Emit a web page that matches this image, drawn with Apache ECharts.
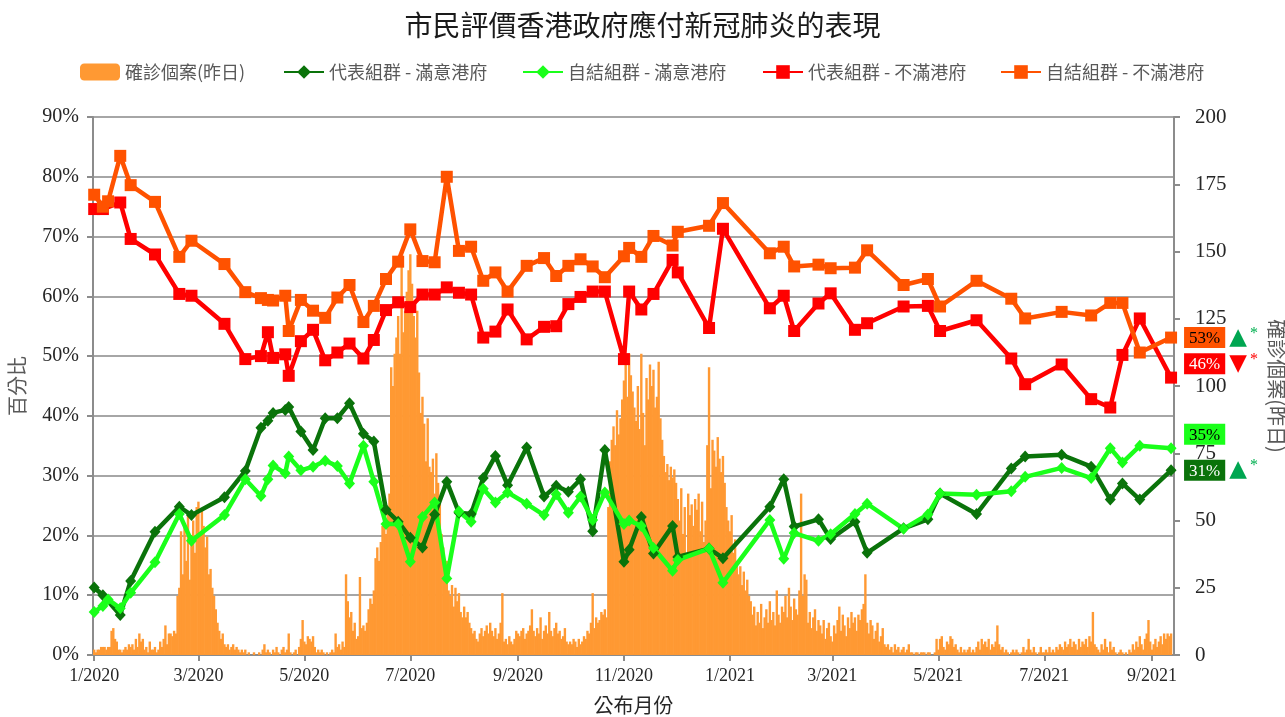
<!DOCTYPE html>
<html>
<head>
<meta charset="utf-8">
<title>市民評價香港政府應付新冠肺炎的表現</title>
<script src="https://cdn.jsdelivr.net/npm/echarts@6/dist/echarts.min.js"></script>
<style>
  html, body { margin: 0; padding: 0; background: #fff; }
  #chart { width: 1285px; height: 717px; }
</style>
</head>
<body>
<div id="chart"></div>
<script>
// 自結組群 survey dates
const selfDates = [
  '2020-01-01', '2020-01-06', '2020-01-09', '2020-01-16', '2020-01-22', '2020-02-05', '2020-02-19', '2020-02-26',
  '2020-03-16', '2020-03-28', '2020-04-06', '2020-04-10', '2020-04-13', '2020-04-20', '2020-04-22', '2020-04-29',
  '2020-05-06', '2020-05-13', '2020-05-20', '2020-05-27', '2020-06-04', '2020-06-10', '2020-06-17', '2020-06-24',
  '2020-07-01', '2020-07-08', '2020-07-15', '2020-07-22', '2020-07-29', '2020-08-05', '2020-08-12', '2020-08-19',
  '2020-08-26', '2020-09-06', '2020-09-16', '2020-09-23', '2020-09-30', '2020-10-07', '2020-10-14', '2020-10-21',
  '2020-11-01', '2020-11-04', '2020-11-11', '2020-11-18', '2020-11-29', '2020-12-02', '2020-12-20', '2020-12-28',
  '2021-01-24', '2021-02-01', '2021-02-07', '2021-02-21', '2021-02-28', '2021-03-14', '2021-03-21', '2021-04-11',
  '2021-04-25', '2021-05-02', '2021-05-23', '2021-06-12', '2021-06-20', '2021-07-11', '2021-07-28', '2021-08-08',
  '2021-08-15', '2021-08-25', '2021-09-12'
]
// 代表組群 survey dates (no 9 Jan poll)
const repDates = selfDates.filter(d => d !== '2020-01-09')

// 代表組群 - 滿意港府 (%)
const repSatisfied = [
  11.3, 10.0, 6.7, 12.4, 20.6, 24.8, 23.4, 26.4, 30.8, 38.0, 39.2, 40.5, 41.0, 41.5, 37.4,
  34.3, 39.6, 39.6, 42.1, 37.0, 35.7, 24.3, 22.3, 19.6, 18.0, 23.5, 29.0, 23.8, 23.6, 29.6,
  33.3, 28.4, 34.7, 26.5, 28.3, 27.3, 29.4, 20.7, 34.3, 15.6, 17.6, 23.1, 17.0, 21.6, 16.4,
  17.8, 16.2, 24.8, 29.4, 21.5, 22.7, 19.4, 22.3, 17.1, 21.2, 22.7, 27.0, 23.6, 31.2, 33.2,
  33.5, 31.5, 26.0, 28.7, 26.0, 30.9
]
// 自結組群 - 滿意港府 (%)
const selfSatisfied = [
  7.2, 8.2, 9.3, 7.8, 10.4, 15.5, 23.6, 19.1, 23.4, 29.4, 26.6, 29.4, 31.7, 30.4, 33.2,
  30.9, 31.5, 32.5, 31.6, 28.7, 35.0, 29.0, 21.9, 21.9, 15.6, 23.1, 25.5, 12.8, 24.0, 22.3,
  27.8, 25.5, 27.2, 25.3, 23.4, 26.9, 23.8, 26.5, 22.6, 27.2, 21.9, 22.5, 21.6, 17.9, 14.1,
  15.9, 17.8, 12.1, 22.6, 16.1, 20.4, 19.1, 20.2, 23.6, 25.3, 21.1, 23.5, 27.0, 26.8, 27.4,
  29.8, 31.3, 29.6, 34.6, 32.2, 35.0, 34.6
]
// 代表組群 - 不滿港府 (%)
const repDissatisfied = [
  74.6, 74.6, 75.7, 69.6, 67.0, 60.4, 60.1, 55.4, 49.5, 50.0, 54.0, 49.7, 50.3, 46.7, 52.5,
  54.4, 49.3, 50.6, 52.1, 49.6, 52.7, 57.7, 59.0, 58.2, 60.3, 60.3, 61.5, 60.6, 60.3, 53.1,
  54.1, 57.8, 52.8, 54.9, 55.0, 58.7, 59.9, 60.8, 60.8, 49.5, 60.8, 57.8, 60.4, 66.1, 64.0,
  54.7, 71.3, 58.0, 60.1, 54.2, 58.8, 60.5, 54.4, 55.5, 58.3, 58.4, 54.2, 56.0, 49.6, 45.3,
  48.6, 42.8, 41.4, 50.2, 56.3, 46.4
]
// 自結組群 - 不滿港府 (%)
const selfDissatisfied = [
  77.0, 75.0, 75.9, 83.5, 78.6, 75.8, 66.6, 69.3, 65.4, 60.7, 59.7, 59.4, 59.3, 60.1, 54.2,
  59.4, 57.6, 56.4, 59.8, 61.9, 55.7, 58.4, 62.9, 65.8, 71.2, 65.9, 65.7, 80.0, 67.6, 68.3,
  62.6, 64.0, 60.8, 65.1, 66.4, 63.4, 65.1, 66.2, 65.0, 63.2, 66.7, 68.1, 66.6, 70.1, 68.5,
  70.8, 71.8, 75.6, 67.2, 68.3, 65.0, 65.3, 64.7, 64.8, 67.7, 61.9, 62.9, 58.3, 62.6, 59.6,
  56.3, 57.4, 56.8, 58.9, 58.9, 50.6, 53.1
]

// 確診個案(昨日), one value per day from 1 Jan 2020
const casesStart = [2020, 0, 1]
const dailyCases = [
  // 2020-01
  2, 1, 2, 2, 3, 3, 3, 2, 3, 3, 9, 10, 6, 5, 2, 2, 1, 2, 3, 2, 4, 3, 4, 2, 6, 3, 8, 5, 6, 2, 3,
  // 2020-02
  1, 5, 2, 2, 3, 1, 2, 5, 3, 6, 11, 4, 8, 8, 7, 9, 8, 22, 25, 46, 30, 48, 35, 52, 28, 42, 50, 38, 55,
  // 2020-03
  57, 45, 54, 48, 40, 44, 30, 32, 25, 22, 17, 12, 9, 6, 8, 4, 3, 4, 2, 3, 4, 2, 3, 2, 1, 2, 1, 2, 0, 1, 0,
  // 2020-04
  0, 1, 0, 0, 1, 0, 2, 4, 1, 2, 1, 0, 2, 1, 3, 1, 0, 2, 3, 1, 2, 8, 1, 0, 1, 2, 0, 3, 6, 13,
  // 2020-05
  5, 4, 7, 6, 5, 7, 3, 1, 2, 1, 2, 1, 0, 1, 0, 1, 2, 1, 8, 3, 4, 2, 5, 3, 30, 20, 14, 16, 9, 12, 6,
  // 2020-06
  7, 29, 10, 11, 9, 12, 17, 21, 19, 24, 36, 40, 35, 42, 48, 52, 45, 54, 60, 107, 100, 112, 118, 126, 112, 146, 120, 128, 135, 143,
  // 2020-07
  149, 138, 126, 118, 128, 105, 90, 96, 86, 72, 88, 70, 68, 73, 60, 75, 64, 58, 45, 40, 28, 35, 24, 22, 26, 18, 25, 20, 23, 16, 14,
  // 2020-08
  18, 14, 16, 12, 10, 8, 9, 6, 5, 8, 10, 7, 9, 11, 8, 12, 9, 7, 10, 6, 8, 12, 23, 5, 6, 4, 7, 5, 4, 6, 9,
  // 2020-09
  8, 7, 9, 10, 6, 8, 9, 11, 17, 9, 7, 10, 8, 14, 6, 9, 11, 8, 16, 9, 7, 10, 12, 8, 9, 6, 7, 10, 5, 4,
  // 2020-10
  5, 4, 6, 5, 3, 6, 4, 5, 7, 6, 9, 8, 12, 23, 10, 14, 12, 13, 16, 15, 17, 14, 55, 72, 80, 85, 78, 91, 82, 88, 95,
  // 2020-11
  102, 110, 96, 112, 104, 98, 92, 87, 100, 84, 112, 90, 78, 103, 95, 108, 100, 106, 92, 96, 109, 88, 80, 74, 68, 71, 65, 70, 66, 69,
  // 2020-12
  64, 58, 50, 62, 45, 55, 38, 60, 52, 56, 48, 58, 54, 60, 46, 57, 42, 50, 78, 107, 62, 80, 76, 70, 81, 73, 68, 74, 64, 55, 50,
  // 2021-01
  46, 52, 38, 43, 35, 30, 33, 26, 31, 24, 28, 22, 20, 15, 18, 11, 16, 12, 19, 10, 14, 17, 12, 20, 13, 16, 11, 24, 15, 12, 18,
  // 2021-02
  16, 22, 14, 25, 18, 13, 21, 17, 15, 24, 60, 22, 30, 28, 12, 16, 10, 14, 17, 9, 13, 11, 8, 13, 6, 10, 12, 7,
  // 2021-03
  5, 11, 8, 13, 18, 9, 15, 11, 7, 14, 10, 16, 12, 14, 9, 15, 13, 17, 19, 30, 12, 8, 13, 11, 6, 9, 12, 5, 7, 10, 4,
  // 2021-04
  3, 4, 2, 3, 1, 4, 2, 3, 1, 2, 3, 1, 2, 4, 1, 1, 0, 1, 1, 0, 1, 1, 1, 0, 1, 1, 0, 0, 1, 6,
  // 2021-05
  2, 6, 7, 3, 2, 5, 4, 7, 6, 3, 4, 2, 1, 3, 1, 2, 1, 2, 3, 1, 2, 1, 3, 5, 2, 6, 4, 5, 3, 6, 2,
  // 2021-06
  4, 3, 5, 11, 4, 2, 3, 1, 2, 1, 0, 1, 2, 1, 2, 1, 0, 1, 3, 1, 2, 6, 2, 1, 3, 1, 0, 1, 3, 1,
  // 2021-07
  1, 2, 1, 3, 1, 2, 1, 3, 2, 4, 3, 2, 5, 3, 4, 6, 3, 5, 4, 2, 6, 3, 5, 4, 6, 3, 7, 5, 16, 4, 3,
  // 2021-08
  2, 1, 4, 2, 6, 3, 1, 5, 2, 3, 1, 0, 1, 2, 1, 0, 1, 0, 2, 1, 4, 2, 5, 3, 7, 4, 2, 6, 8, 13, 5,
  // 2021-09
  2, 4, 6, 3, 5, 7, 4, 8, 6, 8, 7, 8
]

const pctTicks = { min: 0, max: 90, step: 10 }
const caseTicks = { min: 0, max: 200, step: 25 }

const SERIF = '"Liberation Serif", "Times New Roman", serif'
const CJK = '"Noto Sans CJK TC", "Noto Sans CJK SC", sans-serif'

const casesData = dailyCases.map((v, i) => [
  new Date(casesStart[0], casesStart[1], casesStart[2] + i).getTime(), v
])
const zip = (dates, vals) => dates.map((d, i) => [d, vals[i]])

// end-of-line label: coloured value box + trend marker
function endLabel(bg, fg, dy, trend) {
  const rich = {
    box: { backgroundColor: bg, color: fg, fontFamily: SERIF, fontSize: 17, padding: [3, 5, 1, 5] },
    up: { color: '#00a651', fontSize: 23, fontFamily: 'DejaVu Sans', padding: [0, 0, 0, 4] },
    down: { color: '#ff0000', fontSize: 23, fontFamily: 'DejaVu Sans', padding: [0, 0, 0, 4] },
    astG: { color: '#00b050', fontSize: 16, fontFamily: SERIF, verticalAlign: 'top', padding: [0, 0, 8, 3] },
    astR: { color: '#ff0000', fontSize: 16, fontFamily: SERIF, verticalAlign: 'top', padding: [0, 0, 8, 3] }
  }
  return {
    show: true,
    distance: 13,
    offset: [0, dy],
    formatter: p => {
      let s = '{box|' + Math.round(p.value[1]) + '%}'
      if (trend === 'up') s += '{up|▲}{astG|*}'
      if (trend === 'down') s += '{down|▼}{astR|*}'
      return s
    },
    rich
  }
}

function lineSeries(name, color, dates, vals, symbol, size, label) {
  return {
    name,
    type: 'line',
    data: zip(dates, vals),
    yAxisIndex: 0,
    symbol,
    symbolSize: size,
    showAllSymbol: true,
    lineStyle: { color, width: 4.5 },
    itemStyle: { color },
    endLabel: label,
    z: 3
  }
}

const chart = echarts.init(document.getElementById('chart'))
const legendText = { color: '#595959', fontSize: 18, fontFamily: CJK }
const legendItem = (left, name) => ({
  left, top: 63, itemWidth: 40, itemHeight: 17, data: [name], textStyle: legendText, padding: 0
})

chart.setOption({
  animation: false,
  backgroundColor: '#fff',
  title: {
    text: '市民評價香港政府應付新冠肺炎的表現',
    left: 'center',
    top: 6,
    textStyle: { fontFamily: CJK, fontSize: 28, fontWeight: 'normal', color: '#1a1a1a' }
  },
  legend: [
    legendItem(80, '確診個案(昨日)'),
    legendItem(283, '代表組群 - 滿意港府'),
    legendItem(522, '自結組群 - 滿意港府'),
    legendItem(762, '代表組群 - 不滿港府'),
    legendItem(1000, '自結組群 - 不滿港府')
  ],
  grid: { left: 93, right: 111, top: 117, bottom: 62, containLabel: false, outerBoundsMode: 'none' },
  xAxis: {
    type: 'time',
    min: new Date(2020, 0, 1).getTime(),
    max: new Date(2021, 8, 13).getTime(),
    minInterval: 62 * 86400000,
    maxInterval: 62 * 86400000,
    splitNumber: 10,
    name: '公布月份',
    nameLocation: 'middle',
    nameGap: 40,
    nameTextStyle: { fontFamily: CJK, fontSize: 20, color: '#262626' },
    axisLine: { show: true, lineStyle: { color: '#8c8c8c', width: 2 } },
    axisTick: { show: true, length: 6, lineStyle: { color: '#8c8c8c', width: 2 } },
    axisLabel: {
      margin: 12,
      fontFamily: SERIF,
      fontSize: 18,
      color: '#262626',
      formatter: v => {
        const d = new Date(v)
        return (d.getMonth() + 1) + '/' + d.getFullYear()
      }
    },
    splitLine: { show: false }
  },
  yAxis: [
    {
      type: 'value',
      min: pctTicks.min,
      max: pctTicks.max,
      interval: pctTicks.step,
      position: 'left',
      name: '百分比',
      nameLocation: 'middle',
      nameGap: 66,
      nameTextStyle: { fontFamily: CJK, fontSize: 20, color: '#595959' },
      axisLine: { show: true, lineStyle: { color: '#8c8c8c', width: 2 } },
      axisTick: { show: true, length: 6, lineStyle: { color: '#8c8c8c', width: 2 } },
      axisLabel: { formatter: '{value}%', fontFamily: SERIF, fontSize: 20, color: '#262626', margin: 14 },
      splitLine: { show: true, lineStyle: { color: '#a6a6a6', width: 2 } }
    },
    {
      type: 'value',
      min: caseTicks.min,
      max: caseTicks.max,
      interval: caseTicks.step,
      position: 'right',
      name: '確診個案(昨日)',
      nameLocation: 'middle',
      nameGap: 93,
      nameRotate: -90,
      nameTextStyle: { fontFamily: CJK, fontSize: 20, color: '#595959' },
      axisLine: { show: true, lineStyle: { color: '#8c8c8c', width: 2 } },
      axisTick: { show: true, length: 6, lineStyle: { color: '#8c8c8c', width: 2 } },
      axisLabel: { fontFamily: SERIF, fontSize: 21, color: '#262626', margin: 21 },
      splitLine: { show: false }
    }
  ],
  series: [
    {
      name: '確診個案(昨日)',
      type: 'bar',
      yAxisIndex: 1,
      data: casesData,
      barWidth: 2.4,
      itemStyle: { color: '#ff9933' },
      z: 1
    },
    lineSeries('代表組群 - 滿意港府', '#0a730a', repDates, repSatisfied, 'diamond', [11, 12],
      endLabel('#0a730a', '#fff', 0, 'up')),
    lineSeries('自結組群 - 滿意港府', '#1aff1a', selfDates, selfSatisfied, 'diamond', [11, 12],
      endLabel('#1aff1a', '#000', -14, null)),
    lineSeries('代表組群 - 不滿港府', '#ff0000', repDates, repDissatisfied, 'rect', 12,
      endLabel('#ff0000', '#fff', -14, 'down')),
    lineSeries('自結組群 - 不滿港府', '#ff5200', selfDates, selfDissatisfied, 'rect', 12,
      endLabel('#ff5200', '#000', 0, 'up'))
  ]
})
</script>
</body>
</html>
